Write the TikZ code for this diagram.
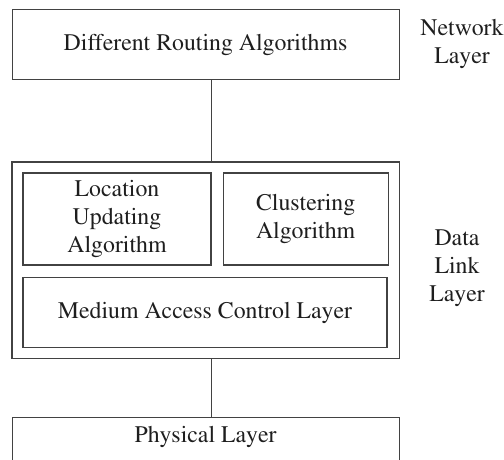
\documentclass[tikz,border=0pt]{standalone}
\usepackage[T1]{fontenc}
\usepackage{mathptmx}
\usepackage{tikz}
\usetikzlibrary{positioning,fit}
\definecolor{boxGray}{RGB}{66,66,66}
\definecolor{textBlack}{RGB}{30,30,30}
\tikzset{
  layer box/.style={draw=boxGray,line width=1.1pt,align=center,text=textBlack,font=\fontsize{23.8}{28}\selectfont,inner sep=0pt},
  layer label/.style={align=center,text=textBlack,font=\fontsize{23.8}{28}\selectfont,inner sep=0pt},
  layer link/.style={draw=boxGray,line width=1.1pt}
}

\begin{document}
\begin{tikzpicture}[x=1pt,y=-1pt,node distance=11pt]
    \useasboundingbox (0,0) rectangle (504,459);
    \node[layer box,minimum width=188pt,minimum height=92pt] (location) at (117,219) {Location\\Updating\\Algorithm};
    \node[layer box,minimum width=165pt,minimum height=92pt,right=11pt of location] (clustering) {Clustering\\Algorithm};
    \node[layer box,minimum width=364pt,minimum height=70pt,below right=11.5pt and 0pt of location.south west] (mac) {Medium Access Control Layer};
    \node[layer box,fit=(location)(clustering)(mac),inner sep=10.5pt] (datalink) {};
    \node[layer box,minimum width=387pt,minimum height=70pt,above=81pt of datalink] (routing) {Different Routing Algorithms};
    \node[layer box,minimum width=387pt,text height=20pt,text depth=16pt,inner ysep=5pt,below=58pt of datalink] (physical) {Physical Layer};
    \node[layer label] (network) at (462,44) {Network\\Layer};
    \node[layer label] (datalinklabel) at (457,268) {Data\\Link\\Layer};
    \draw[layer link] (location.east |- routing.south) -- (location.east |- datalink.north);
    \draw[layer link] (location.east |- datalink.south) -- (location.east |- physical.north);
  \end{tikzpicture}
\end{document}
